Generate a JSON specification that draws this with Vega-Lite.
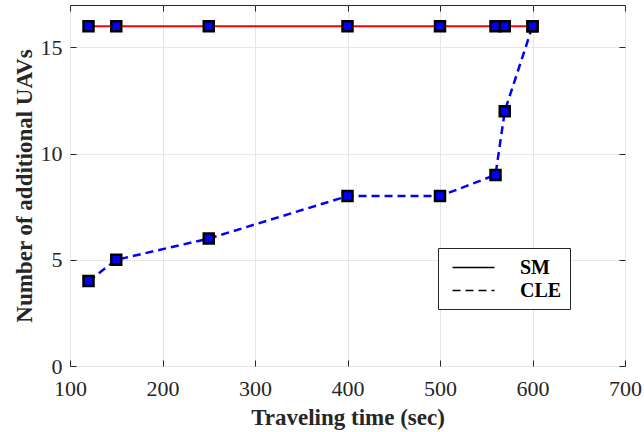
{
  "$schema": "https://vega.github.io/schema/vega-lite/v6.json",
  "width": 555,
  "height": 361,
  "autosize": "none",
  "padding": {"left": 70, "top": 5, "right": 19, "bottom": 66},
  "background": "white",
  "config": {
    "font": "Liberation Serif",
    "view": {"stroke": "#262626", "strokeWidth": 1},
    "axis": {
      "labelFont": "Liberation Serif",
      "labelFontSize": 22,
      "labelColor": "#262626",
      "labelFlush": false,
      "titleFont": "Liberation Serif",
      "titleFontSize": 23,
      "titleFontWeight": "bold",
      "titleColor": "#262626",
      "gridColor": "#e6e6e6",
      "gridWidth": 1,
      "domain": false,
      "tickColor": "#262626",
      "tickSize": -6,
      "tickWidth": 1
    }
  },
  "data": {
    "values": [
      {"time": 120, "uavs": 16, "method": "SM"},
      {"time": 150, "uavs": 16, "method": "SM"},
      {"time": 250, "uavs": 16, "method": "SM"},
      {"time": 400, "uavs": 16, "method": "SM"},
      {"time": 500, "uavs": 16, "method": "SM"},
      {"time": 560, "uavs": 16, "method": "SM"},
      {"time": 570, "uavs": 16, "method": "SM"},
      {"time": 600, "uavs": 16, "method": "SM"},
      {"time": 120, "uavs": 4, "method": "CLE"},
      {"time": 150, "uavs": 5, "method": "CLE"},
      {"time": 250, "uavs": 6, "method": "CLE"},
      {"time": 400, "uavs": 8, "method": "CLE"},
      {"time": 500, "uavs": 8, "method": "CLE"},
      {"time": 560, "uavs": 9, "method": "CLE"},
      {"time": 570, "uavs": 12, "method": "CLE"},
      {"time": 600, "uavs": 16, "method": "CLE"}
    ]
  },
  "resolve": {"axis": {"x": "independent", "y": "independent"}},
  "layer": [
    {
      "transform": [{"filter": "datum.method === 'SM'"}],
      "mark": {"type": "line", "color": "#ff0000", "strokeWidth": 2},
      "encoding": {
        "x": {
          "field": "time", "type": "quantitative",
          "scale": {"domain": [100, 700], "nice": false},
          "axis": {"values": [100, 200, 300, 400, 500, 600, 700], "title": "Traveling time (sec)", "labelPadding": 18, "titlePadding": 7}
        },
        "y": {
          "field": "uavs", "type": "quantitative",
          "scale": {"domain": [0, 17], "nice": false},
          "axis": {"values": [0, 5, 10, 15], "title": "Number of additional UAVs", "labelPadding": 14, "titlePadding": 4}
        },
        "strokeDash": {
          "field": "method", "type": "nominal",
          "scale": {"domain": ["SM", "CLE"], "range": [[1, 0], [8, 5]]},
          "legend": {
            "title": null,
            "orient": "none",
            "legendX": 368,
            "legendY": 243,
            "direction": "vertical",
            "symbolType": "M-2,0H2",
            "symbolSize": 441,
            "symbolStrokeWidth": 1.5,
            "symbolStrokeColor": "#000000",
            "symbolOffset": 16,
            "labelFont": "Liberation Serif",
            "labelFontSize": 20,
            "labelFontWeight": "bold",
            "labelColor": "#000000",
            "labelOffset": 35,
            "rowPadding": 1,
            "padding": 8,
            "strokeColor": "#262626",
            "fillColor": "white",
            "encode": {
              "symbols": {
                "update": {
                  "stroke": {"value": "#000000"},
                  "strokeWidth": {"value": 1.5},
                  "fill": {"value": "transparent"},
                  "strokeDash": {"signal": "datum.value === 'CLE' ? [5, 6] : [1, 0]"}
                }
              }
            }
          }
        }
      }
    },
    {
      "transform": [{"filter": "datum.method === 'CLE'"}],
      "mark": {"type": "line", "color": "#0000ff", "strokeWidth": 2.5},
      "encoding": {
        "x": {"field": "time", "type": "quantitative", "axis": {"orient": "top", "values": [100, 200, 300, 400, 500, 600, 700], "labels": false, "title": null, "grid": false}},
        "y": {"field": "uavs", "type": "quantitative", "axis": {"orient": "right", "values": [0, 5, 10, 15], "labels": false, "title": null, "grid": false}},
        "strokeDash": {"field": "method", "type": "nominal"}
      }
    },
    {
      "mark": {"type": "square", "size": 100, "fill": "#0000ff", "fillOpacity": 1, "stroke": "#000000", "strokeWidth": 2.5, "opacity": 1},
      "encoding": {
        "x": {"field": "time", "type": "quantitative", "axis": null},
        "y": {"field": "uavs", "type": "quantitative", "axis": null}
      }
    }
  ]
}
